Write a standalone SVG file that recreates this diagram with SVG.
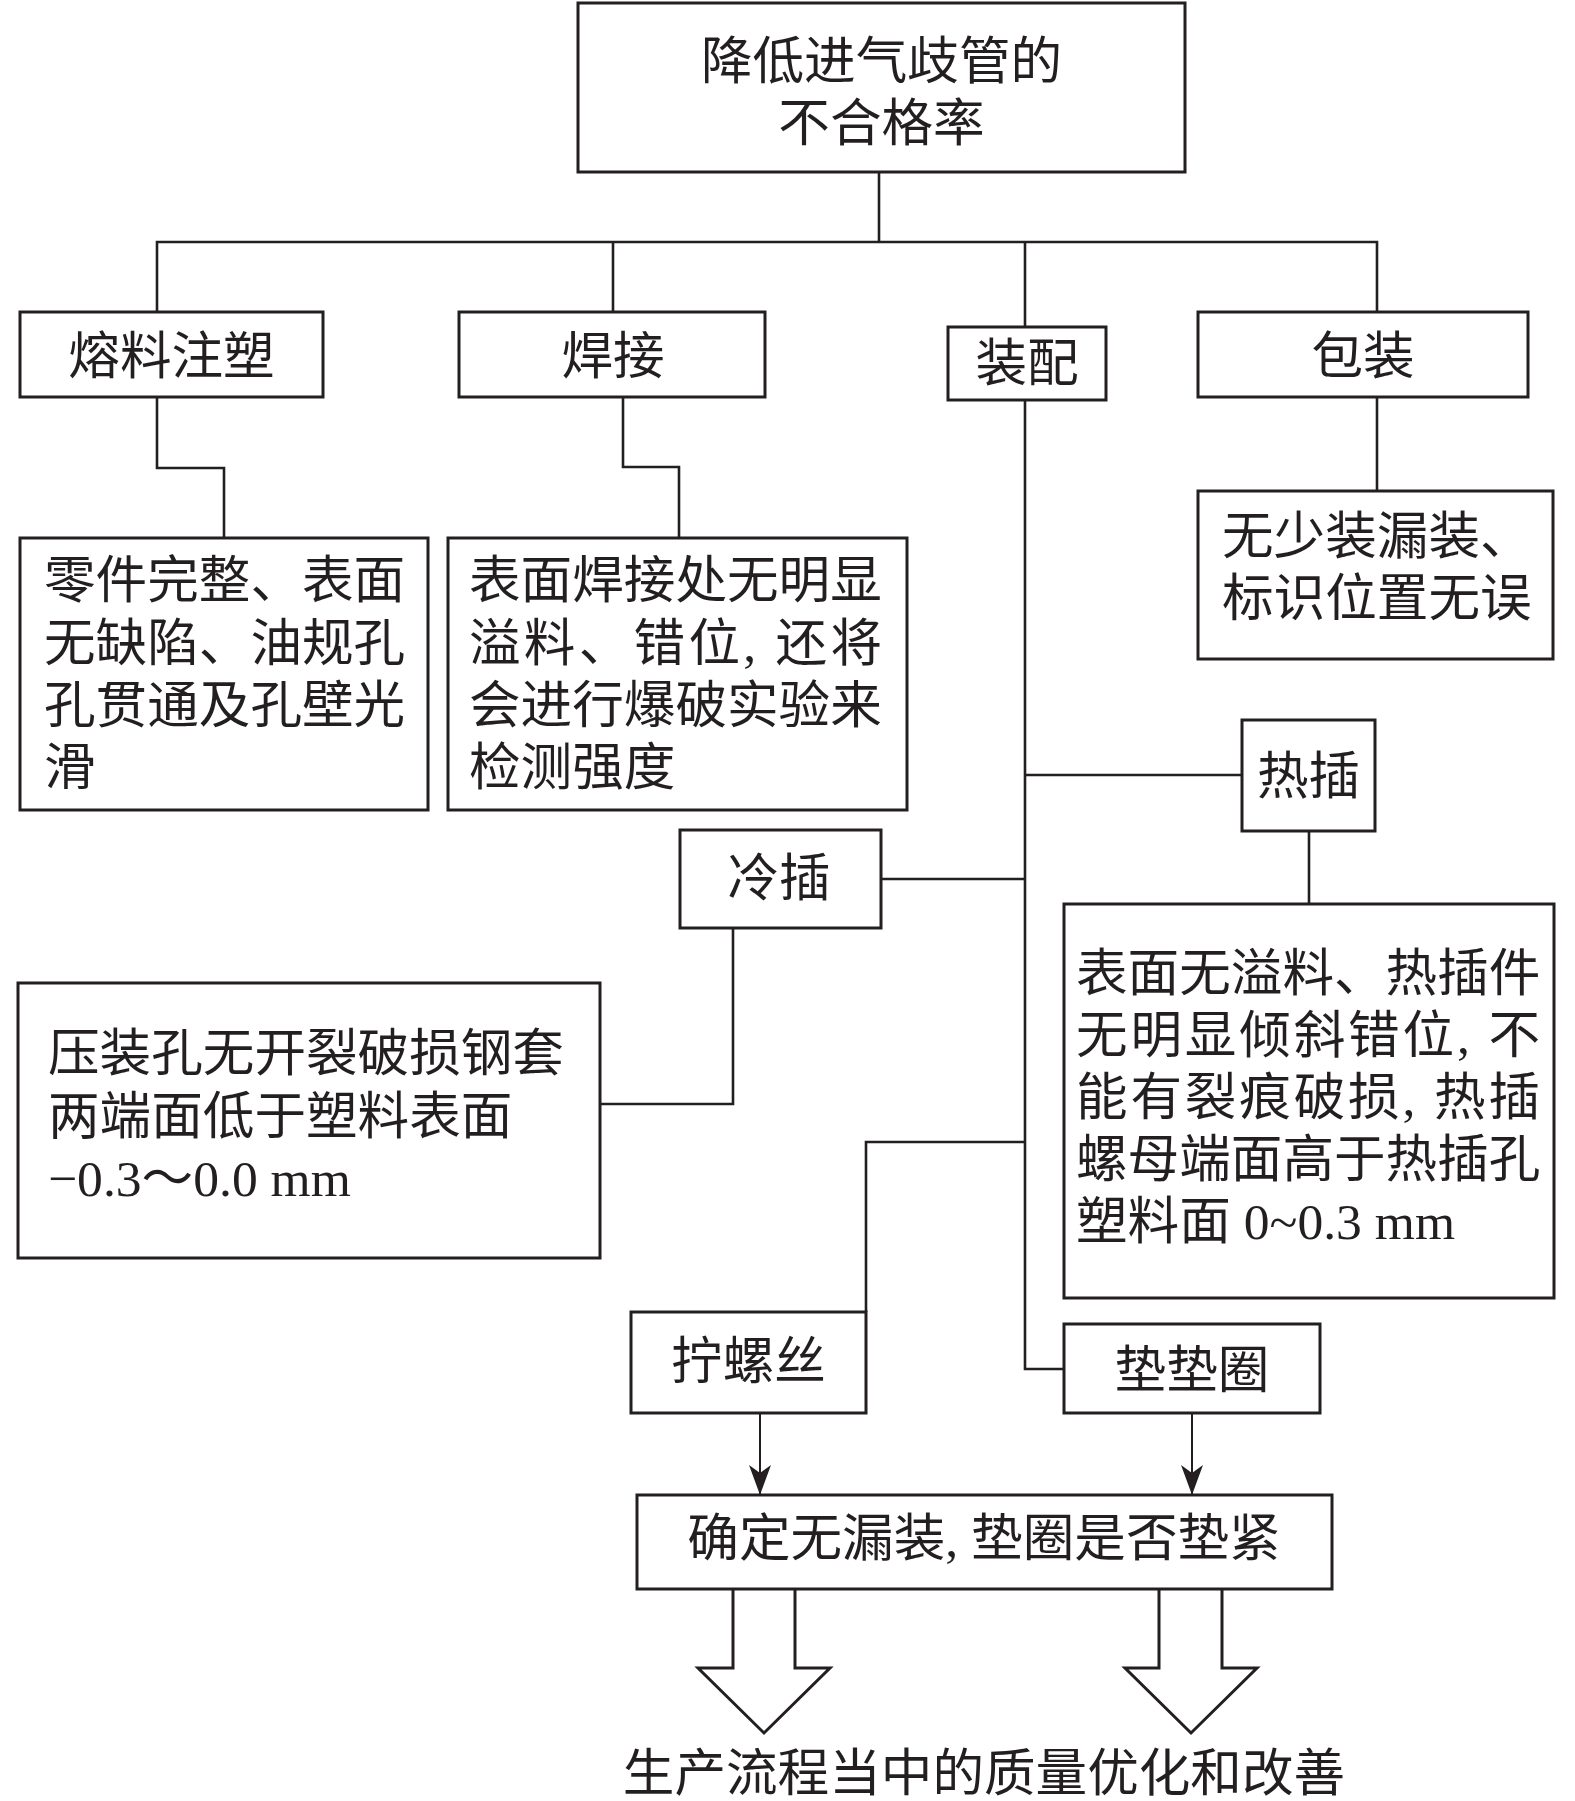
<svg xmlns="http://www.w3.org/2000/svg" width="1575" height="1801" viewBox="0 0 1575 1801">
<style>
  .box{fill:#fff;stroke:#231f20;stroke-width:3}
  .ln{fill:none;stroke:#231f20;stroke-width:2.6}
  .ar{fill:none;stroke:#231f20;stroke-width:2}
  .blk{fill:#fff;stroke:#231f20;stroke-width:3;stroke-linejoin:miter}
  text{font-family:"Liberation Serif","Noto Sans CJK SC",serif;font-size:51.6px;fill:#231f20}
  .c{text-anchor:middle}
</style>
<defs>
  <marker id="ah" markerUnits="userSpaceOnUse" viewBox="0 0 30 22" markerWidth="30" markerHeight="22" refX="29" refY="11" orient="auto">
    <path d="M0,0 L30,11 L0,22 L8,11 Z" fill="#231f20"/>
  </marker>
</defs>

<g id="connectors">
  <polyline class="ln" points="879,172 879,242"/>
  <polyline class="ln" points="157,312 157,242 1377,242 1377,312"/>
  <polyline class="ln" points="613,242 613,312"/>
  <polyline class="ln" points="1025,242 1025,327"/>
  <polyline class="ln" points="157,397 157,468 224,468 224,538"/>
  <polyline class="ln" points="623,397 623,467 679,467 679,538"/>
  <polyline class="ln" points="1377,397 1377,491"/>
  <polyline class="ln" points="1025,400 1025,1369 1064,1369"/>
  <polyline class="ln" points="1025,775 1242,775"/>
  <polyline class="ln" points="1309,831 1309,904"/>
  <polyline class="ln" points="881,879 1025,879"/>
  <polyline class="ln" points="733,928 733,1104 600,1104"/>
  <polyline class="ln" points="1025,1142 866,1142 866,1312"/>
  <line class="ar" x1="760" y1="1413" x2="760" y2="1494" marker-end="url(#ah)"/>
  <line class="ar" x1="1192" y1="1413" x2="1192" y2="1494" marker-end="url(#ah)"/>
  <polyline class="blk" points="733,1590 733,1668 698,1668 764,1733 830,1668 795,1668 795,1590"/>
  <polyline class="blk" points="1159,1590 1159,1668 1125,1668 1191,1733 1257,1668 1222,1668 1222,1590"/>
</g>

<g id="n-title">
  <rect class="box" x="578" y="3" width="607" height="169"/>
  <text class="c" x="881.5" y="79">降低进气歧管的</text>
  <text class="c" x="881.5" y="141">不合格率</text>
</g>

<g id="n-rongliao">
  <rect class="box" x="20" y="312" width="303" height="85"/>
  <text class="c" x="171.5" y="374">熔料注塑</text>
</g>
<g id="n-hanjie">
  <rect class="box" x="459" y="312" width="306" height="85"/>
  <text class="c" x="613" y="374">焊接</text>
</g>
<g id="n-zhuangpei">
  <rect class="box" x="948" y="327" width="158" height="73"/>
  <text class="c" x="1027" y="381">装配</text>
</g>
<g id="n-baozhuang">
  <rect class="box" x="1198" y="312" width="330" height="85"/>
  <text class="c" x="1363" y="374">包装</text>
</g>

<g id="n-rongliao-detail">
  <rect class="box" x="20" y="538" width="408" height="272"/>
  <text x="44" y="598">零件完整、表面</text>
  <text x="44" y="661">无缺陷、油规孔</text>
  <text x="44" y="723">孔贯通及孔壁光</text>
  <text x="44" y="785">滑</text>
</g>
<g id="n-hanjie-detail">
  <rect class="box" x="448" y="538" width="459" height="272"/>
  <text x="469" y="598">表面焊接处无明显</text>
  <text x="469" y="661" textLength="413" lengthAdjust="spacing">溢料、错位, 还将</text>
  <text x="469" y="723">会进行爆破实验来</text>
  <text x="469" y="785">检测强度</text>
</g>
<g id="n-baozhuang-detail">
  <rect class="box" x="1198" y="491" width="355" height="168"/>
  <text x="1222" y="554">无少装漏装、</text>
  <text x="1222" y="616">标识位置无误</text>
</g>

<g id="n-recha">
  <rect class="box" x="1242" y="720" width="133" height="111"/>
  <text class="c" x="1308.5" y="794">热插</text>
</g>
<g id="n-lengcha">
  <rect class="box" x="680" y="830" width="201" height="98"/>
  <text class="c" x="779" y="896">冷插</text>
</g>

<g id="n-lengcha-detail">
  <rect class="box" x="18" y="983" width="582" height="275"/>
  <text x="48" y="1071">压装孔无开裂破损钢套</text>
  <text x="48" y="1134">两端面低于塑料表面</text>
  <text x="48" y="1196">−0.3～0.0 mm</text>
</g>
<g id="n-recha-detail">
  <rect class="box" x="1064" y="904" width="490" height="394"/>
  <text x="1076" y="991">表面无溢料、热插件</text>
  <text x="1076" y="1053" textLength="464" lengthAdjust="spacing">无明显倾斜错位, 不</text>
  <text x="1076" y="1115" textLength="464" lengthAdjust="spacing">能有裂痕破损, 热插</text>
  <text x="1076" y="1177">螺母端面高于热插孔</text>
  <text x="1076" y="1239">塑料面 0~0.3 mm</text>
</g>

<g id="n-ningluosi">
  <rect class="box" x="631" y="1312" width="235" height="101"/>
  <text class="c" x="748.5" y="1379">拧螺丝</text>
</g>
<g id="n-dianquan">
  <rect class="box" x="1064" y="1324" width="256" height="89"/>
  <text class="c" x="1192" y="1388">垫垫圈</text>
</g>

<g id="n-queding">
  <rect class="box" x="637" y="1495" width="695" height="94"/>
  <text class="c" x="984" y="1556">确定无漏装, 垫圈是否垫紧</text>
</g>

<g id="n-result">
  <text class="c" x="984" y="1791">生产流程当中的质量优化和改善</text>
</g>
</svg>
